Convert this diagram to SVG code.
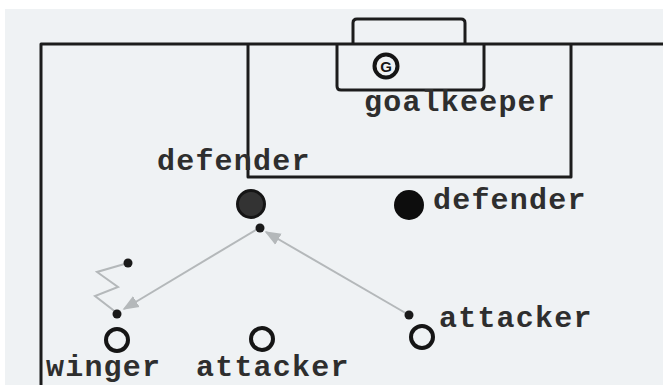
<svg xmlns="http://www.w3.org/2000/svg" width="663" height="385" viewBox="0 0 663 385">
<style>
.field{fill:none;stroke:#1c1c1c;stroke-width:3;stroke-linejoin:round}
.lbl{font-family:"Liberation Mono","DejaVu Sans Mono",monospace;font-size:30px;font-weight:bold;fill:#2e2e2e;letter-spacing:1.2px}
.ring{fill:none;stroke:#151515;stroke-width:4}
.dot{fill:#1a1a1a}
.mv{fill:none;stroke:#b4b8ba;stroke-width:2}
</style>
<defs>
<marker id="ah" viewBox="0 0 10 10" refX="9" refY="5" markerWidth="8" markerHeight="8" orient="auto" markerUnits="strokeWidth">
<path d="M0,1 L10,5 L0,9 z" fill="#b4b8ba"/>
</marker>
</defs>
<rect x="0" y="0" width="663" height="385" fill="#ffffff"/>
<rect x="5" y="9" width="658" height="376" fill="#eff2f4"/>
<g id="pitch">
<path class="field" d="M41,385 V44 H663"/>
<path class="field" d="M248,44 V177 H571 V44"/>
<path class="field" d="M337,44 V86 Q337,90 341,90 H480 Q484,90 484,86 V44"/>
<path class="field" d="M353,44 V23 Q353,19 357,19 H461 Q465,19 465,23 V44"/>
</g>
<g id="connectors">
<line class="mv" x1="259" y1="228" x2="124" y2="309" marker-end="url(#ah)"/>
<line class="mv" x1="409" y1="315" x2="266" y2="232" marker-end="url(#ah)"/>
<polyline class="mv" points="128,263 97,272 118,287 95,296 117,313"/>
</g>
<g id="goalkeeper">
<circle cx="386" cy="66" r="11.5" fill="#eff2f4" stroke="#151515" stroke-width="4"/>
<text x="386" y="71.5" text-anchor="middle" font-family="Liberation Sans,Arial,sans-serif" font-size="15" font-weight="bold" fill="#151515">G</text>
<text class="lbl" x="364" y="111">goalkeeper</text>
</g>
<g id="defender-left">
<circle cx="251" cy="204" r="13.5" fill="#333333" stroke="#151515" stroke-width="3"/>
<circle class="dot" cx="260" cy="228" r="4.5"/>
<text class="lbl" x="157" y="170">defender</text>
</g>
<g id="defender-right">
<circle cx="409" cy="205" r="15" fill="#0d0d0d"/>
<text class="lbl" x="433" y="209">defender</text>
</g>
<g id="winger">
<circle class="ring" cx="117" cy="340" r="11"/>
<circle class="dot" cx="117" cy="314" r="4.5"/>
<circle class="dot" cx="128" cy="263" r="4.5"/>
<text class="lbl" x="46" y="376">winger</text>
</g>
<g id="attacker-center">
<circle class="ring" cx="262" cy="339" r="11"/>
<text class="lbl" x="196" y="376">attacker</text>
</g>
<g id="attacker-right">
<circle class="ring" cx="422" cy="337" r="11"/>
<circle class="dot" cx="409" cy="315" r="4.5"/>
<text class="lbl" x="439" y="327">attacker</text>
</g>
</svg>
